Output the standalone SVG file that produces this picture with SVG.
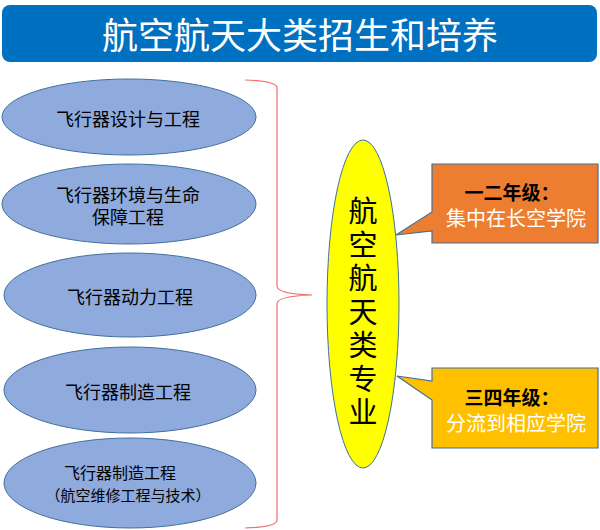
<svg xmlns="http://www.w3.org/2000/svg" width="600" height="530" viewBox="0 0 600 530">
<style>
text{font-family:"Noto Sans CJK SC","Noto Sans CJK TC",sans-serif;text-anchor:middle}
.major{fill:#8FAADC;stroke:#41719C;stroke-width:1}
.mt{font-size:18px;fill:#000}
.call{stroke:#41719C;stroke-width:1.2}
.cb{font-size:19px;font-weight:bold;fill:#000}
.cw{font-size:20px;fill:#fff}
.vt{font-size:29px;fill:#000;writing-mode:vertical-rl;letter-spacing:4.5px}
</style>
<rect width="600" height="530" fill="#fff"/>
<g id="title">
<rect x="2" y="5" width="595" height="57" rx="8" fill="#0070C0"/>
<text x="300" y="49" fill="#fff" style="font-size:36px">航空航天大类招生和培养</text>
</g>
<g id="m1"><ellipse class="major" cx="129" cy="117" rx="127" ry="38"/><text class="mt" x="128" y="126">飞行器设计与工程</text></g>
<g id="m2"><ellipse class="major" cx="129" cy="204" rx="127" ry="40"/><text class="mt" x="128" y="202">飞行器环境与生命<tspan x="128" dy="22">保障工程</tspan></text></g>
<g id="m3"><ellipse class="major" cx="130" cy="295" rx="126" ry="42"/><text class="mt" x="130" y="304">飞行器动力工程</text></g>
<g id="m4"><ellipse class="major" cx="130" cy="390" rx="126" ry="43"/><text class="mt" x="128" y="399">飞行器制造工程</text></g>
<g id="m5"><ellipse class="major" cx="130" cy="483" rx="126" ry="45"/><text x="120" y="479" style="font-size:16px">飞行器制造工程</text><text x="128" y="501" style="font-size:15px">（航空维修工程与技术）</text></g>
<g id="connectors">
<path d="M245 80 Q277 81 277 88 L277 286 Q277 294 312 295 Q277 296 277 304 L277 520 Q277 527 245 528" fill="none" stroke="#F07070" stroke-width="1.2"/>
</g>
<g id="major-class">
<ellipse cx="363" cy="304" rx="36" ry="164" fill="#FFFF00" stroke="#41719C" stroke-width="1"/>
<text class="vt" x="363" y="314">航空航天类专业</text>
</g>
<g id="year12">
<path class="call" d="M432 164 L598 164 L598 243 L432 243 L432 231 L396 235 L432 212 Z" fill="#ED7D31"/>
<text class="cb" x="512" y="200">一二年级：</text>
<text class="cw" x="516" y="226">集中在长空学院</text>
</g>
<g id="year34">
<path class="call" d="M432 368 L598 368 L598 448 L432 448 L432 400 L397 376 L432 381 Z" fill="#FFC000"/>
<text class="cb" x="512" y="405">三四年级：</text>
<text class="cw" x="516" y="431">分流到相应学院</text>
</g>
</svg>
